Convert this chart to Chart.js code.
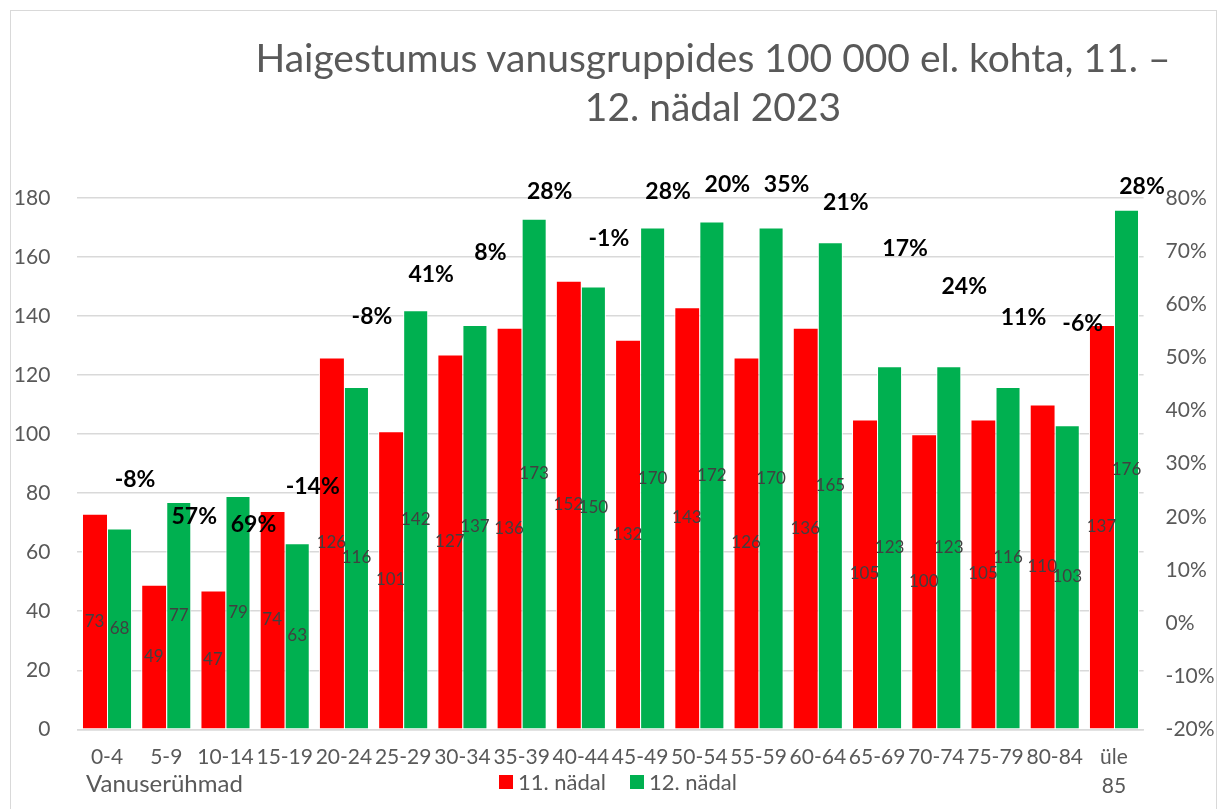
<!DOCTYPE html>
<html>
<head>
<meta charset="utf-8">
<script src="https://cdn.jsdelivr.net/npm/chart.js@4.4.0/dist/chart.umd.min.js"></script>
<style>
  html,body{margin:0;padding:0;background:#fff;}
  #wrap{position:relative;width:1219px;height:809px;overflow:hidden;font-family:Lato,sans-serif;}
  #frame{position:absolute;left:10px;top:10px;width:1207px;height:820px;border:1px solid #d9d9d9;box-sizing:border-box;}
  #title{position:absolute;left:213px;top:33px;width:1000px;text-align:center;font-size:39px;line-height:49px;color:#595959;}
  #xtitle{position:absolute;left:86px;top:769px;font-size:24px;line-height:28px;color:#595959;}
  #legend{position:absolute;left:499px;top:768px;font-size:22px;line-height:28px;color:#595959;display:flex;}
  #legend span.item{display:flex;align-items:center;margin-right:24px;}
  #legend span.box{display:inline-block;width:14px;height:14px;margin-right:5px;}
  canvas{position:absolute;left:0;top:0;}
</style>
</head>
<body>
<div id="wrap">
  <div id="frame"></div>
  <canvas id="c" width="1219" height="809"></canvas>
  <div id="title">Haigestumus vanusgruppides 100 000 el. kohta, 11. –<br>12. nädal 2023</div>
  <div id="xtitle">Vanuserühmad</div>
  <div id="legend"></div>
</div>
<script>
'use strict';
// ══ andmed ══
const ageGroups=['0-4','5-9','10-14','15-19','20-24','25-29','30-34','35-39','40-44','45-49','50-54','55-59','60-64','65-69','70-74','75-79','80-84',['üle','85']];
const week11=[73,49,47,74,126,101,127,136,152,132,143,126,136,105,100,105,110,137];
const week12=[68,77,79,63,116,142,137,173,150,170,172,170,165,123,123,116,103,176];
const changePct=[-8,57,69,-14,-8,41,8,28,-1,28,20,35,21,17,24,11,-6,28];
// where the % labels sit
const pctLabelLevel=[84.5,72,69.3,82.1,139.9,154,161.4,182.2,166.4,182.2,184.5,184.5,178.3,162.8,150,139.4,137.6,183.9];
const leftTicks={min:0,max:180,step:20};
const rightTicks={min:-0.2,max:0.8,step:0.1};

const FONT='Lato, sans-serif';
const GRID='#d9d9d9',TXT='#595959';

// bar value labels in the middle of each bar
const barLabels={
  id:'barLabels',
  afterDatasetsDraw(chart){
    const ctx=chart.ctx;
    ctx.save();
    ctx.font='17px '+FONT;ctx.fillStyle='#404040';ctx.textAlign='center';ctx.textBaseline='middle';
    chart.data.datasets.forEach((ds,di)=>{
      if(ds.type==='line')return;
      chart.getDatasetMeta(di).data.forEach((b,i)=>{
        ctx.fillText(ds.data[i],b.x,(b.y+b.base)/2);
      });
    });
    ctx.restore();
  }
};
// percent change labels, right of the hidden points
const pctLabels={
  id:'pctLabels',
  afterDatasetsDraw(chart){
    const ctx=chart.ctx;
    const di=chart.data.datasets.findIndex(d=>d.type==='line');
    if(di<0)return;
    ctx.save();
    ctx.font='bold 23px '+FONT;ctx.fillStyle='#000';ctx.textAlign='center';ctx.textBaseline='middle';
    chart.getDatasetMeta(di).data.forEach((p,i)=>{
      ctx.fillText(changePct[i]+'%',p.x+28,p.y);
    });
    ctx.restore();
  }
};

const chart=new Chart(document.getElementById('c'),{
  type:'bar',
  data:{labels:ageGroups,datasets:[
    {label:'11. nädal',data:week11,backgroundColor:'#ff0000',borderColor:'#ffffff',borderWidth:{left:1,right:0,top:1,bottom:0},yAxisID:'y',categoryPercentage:0.845,barPercentage:1},
    {label:'12. nädal',data:week12,backgroundColor:'#00b050',borderColor:'#ffffff',borderWidth:{left:1,right:1,top:1,bottom:0},yAxisID:'y',categoryPercentage:0.845,barPercentage:1},
    {label:'muutus',type:'line',data:pctLabelLevel,yAxisID:'y',showLine:false,pointRadius:0,pointHoverRadius:0}
  ]},
  options:{
    responsive:false,animation:false,
    layout:{padding:{top:198,bottom:0,left:0,right:0}},
    plugins:{legend:{display:false},title:{display:false},tooltip:{enabled:false}},
    scales:{
      x:{
        grid:{display:false,drawTicks:false},
        border:{color:GRID,width:1.5},
        ticks:{color:TXT,font:{family:FONT,size:21,lineHeight:1.35},padding:14,maxRotation:0,autoSkip:false},
        afterFit(s){s.height=809-729.3;}
      },
      y:{
        position:'left',min:leftTicks.min,max:leftTicks.max,
        ticks:{stepSize:leftTicks.step,color:TXT,font:{family:FONT,size:21},padding:27},
        grid:{color:GRID,lineWidth:1.5,drawTicks:false},
        border:{display:false},
        afterFit(s){s.width=77.4;}
      },
      y2:{
        position:'right',min:rightTicks.min,max:rightTicks.max,
        ticks:{stepSize:rightTicks.step,color:TXT,font:{family:FONT,size:21},padding:22,
          callback:v=>Math.round(v*100)+'%'},
        grid:{display:false,drawTicks:false},
        border:{display:false},
        afterFit(s){s.width=1219-1143.6;}
      }
    }
  },
  plugins:[barLabels,pctLabels]
});

// legend from the bar datasets
const lg=document.getElementById('legend');
chart.data.datasets.filter(d=>d.type!=='line').forEach(d=>{
  const it=document.createElement('span');it.className='item';
  it.innerHTML='<span class="box" style="background:'+d.backgroundColor+'"></span>'+d.label;
  lg.appendChild(it);
});
</script>
</body>
</html>
